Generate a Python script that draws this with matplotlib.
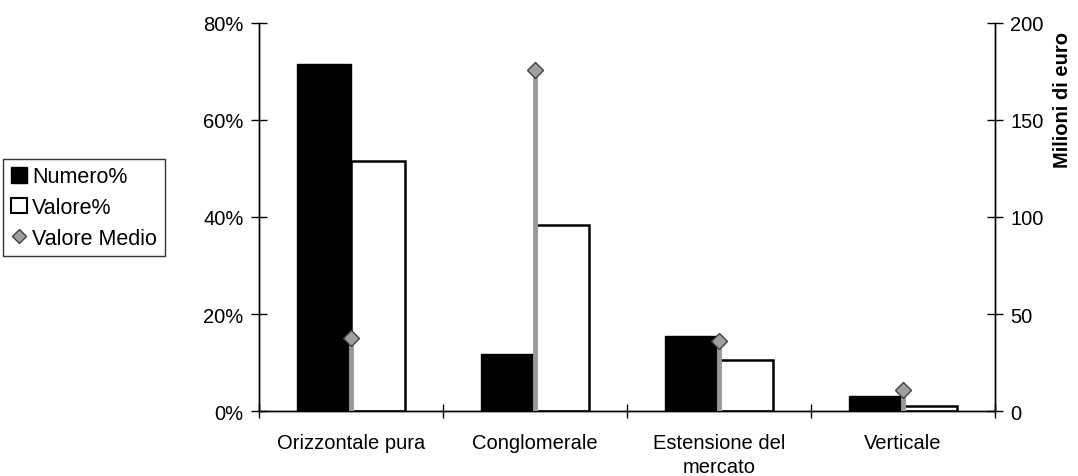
import numpy as np
import matplotlib.pyplot as plt
from matplotlib.ticker import FuncFormatter
from matplotlib.lines import Line2D
from matplotlib.patches import Patch

plt.rcParams['font.family'] = ['Liberation Sans', 'DejaVu Sans']

# Data
categorie = ["Orizzontale pura", "Conglomerale", "Estensione del\nmercato", "Verticale"]
numero_pct = [71.6, 11.7, 15.4, 3.1]      # Numero% (left axis)
valore_pct = [51.5, 38.3, 10.6, 1.0]      # Valore% (left axis)
valore_medio = [37.5, 175.5, 36.0, 11.0]  # Valore Medio, milioni di euro (right axis)

x = np.arange(len(categorie))
w = 0.294
fs = 14.5

fig = plt.figure(figsize=(10.78, 4.77), dpi=100)
ax = fig.add_axes([0.240, 0.136, 0.683, 0.814])
ax2 = ax.twinx()

ax.bar(x - w / 2, numero_pct, w, color='black', edgecolor='black', linewidth=1)
ax.bar(x + w / 2, valore_pct, w, color='white', edgecolor='black', linewidth=1.8)

# Valore Medio: grey drop lines with diamond markers
ax2.vlines(x, 0, valore_medio, color='#9a9a9a', linewidth=3.5, zorder=3)
ax2.plot(x, valore_medio, linestyle='None', marker='D', markersize=8,
         markerfacecolor='#a0a0a0', markeredgecolor='#404040', markeredgewidth=1, zorder=4)

ax.set_xlim(-0.5, 3.5)
ax.set_ylim(0, 80)
ax2.set_ylim(0, 200)
ax.set_yticks([0, 20, 40, 60, 80])
ax2.set_yticks([0, 50, 100, 150, 200])
ax.yaxis.set_major_formatter(FuncFormatter(lambda v, p: "%d%%" % v))

ax.set_xticks(x)
ax.set_xticklabels(categorie, fontsize=fs, linespacing=1.3)
ax.set_xticks(np.arange(-0.5, 4.0, 1.0), minor=True)
ax.tick_params(axis='x', which='major', length=0, pad=16)
ax.tick_params(axis='x', which='minor', direction='inout', length=10, width=1)
ax.tick_params(axis='y', direction='inout', length=12, width=1, labelsize=fs, pad=5)
ax2.tick_params(axis='y', direction='inout', length=12, width=1, labelsize=fs, pad=5)

for a in (ax, ax2):
    a.spines['top'].set_visible(False)
    for s in ('left', 'right', 'bottom'):
        a.spines[s].set_linewidth(1)

fig.text(1062 / 1078, 1 - 100 / 477, "Milioni di euro", fontsize=fs, fontweight='bold',
         rotation=90, ha='center', va='center')

handles = [
    Patch(facecolor='black', edgecolor='black'),
    Patch(facecolor='white', edgecolor='black', linewidth=1.5),
    Line2D([], [], linestyle='None', marker='D', markersize=7,
           markerfacecolor='#a0a0a0', markeredgecolor='#404040'),
]
leg = fig.legend(handles, ["Numero%", "Valore%", "Valore Medio"],
                 loc='upper left', bbox_to_anchor=(0.003, 0.665),
                 fontsize=15.5, frameon=True, fancybox=False, edgecolor='black',
                 handlelength=0.75, handleheight=0.75, handletextpad=0.25,
                 borderpad=0.35, labelspacing=0.45, borderaxespad=0)
leg.get_frame().set_linewidth(1)

fig.savefig('out.png', dpi=100)
